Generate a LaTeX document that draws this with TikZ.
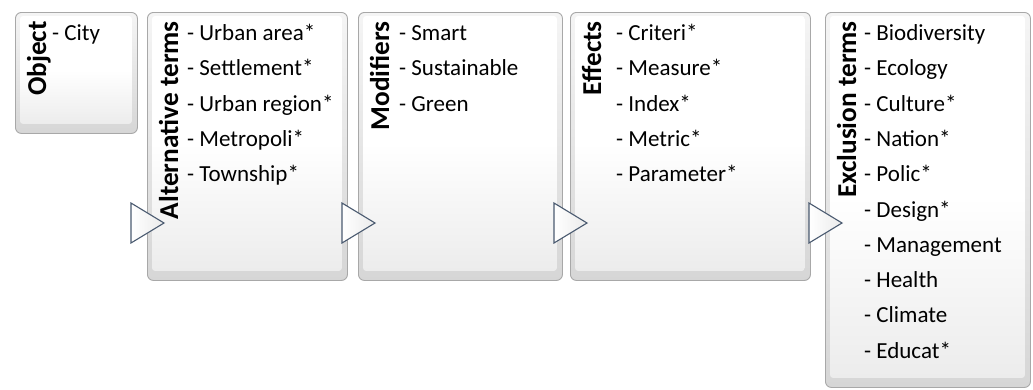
\documentclass[tikz,border=0pt]{standalone}
\usepackage{fontspec}
\setmainfont{Carlito}
\usetikzlibrary{calc}

\definecolor{rim}{HTML}{A8A8A8}
\definecolor{bevel}{HTML}{D6D6D6}
\definecolor{facelow}{HTML}{ECECEC}
\definecolor{arrowline}{HTML}{4A5A70}

\tikzset{
  keybox/.style={draw=rim, line width=0.9pt, rounded corners=6pt,
    top color=white!96!black, bottom color=bevel,
    anchor=north west, inner sep=0pt},
  keyface/.style={rounded corners=3pt, top color=white, bottom color=facelow,
    middle color=white},
  title/.style={rotate=90, anchor=base east, inner sep=0pt,
    font=\fontsize{27.3}{30}\selectfont\bfseries},
  items/.style={anchor=base west, inner sep=0pt,
    font=\fontsize{23}{35.3}\selectfont},
  steptri/.style={draw=arrowline, line width=1.1pt, line join=miter,
    left color=white, right color=black!8},
}

% stacked list with a fixed line pitch
\newcommand{\termlist}[1]{\parbox[t]{170pt}{\raggedright #1}}

% keycap-style box: name, left, top, right, bottom
\newcommand{\keycap}[5]{%
  \node[keybox, minimum width=#4-#2, minimum height=#5-#3] (#1) at (#2,#3) {};
  \shade[keyface] ($(#1.north west)+(5,4)$) rectangle ($(#1.south east)+(-6,-10)$);
}

\begin{document}
\begin{tikzpicture}[x=1pt, y=-1pt]
\useasboundingbox (0,0) rectangle (1033,389);

\keycap{obj}{15}{12}{137}{133}
\keycap{alt}{147}{12}{347}{280}
\keycap{mod}{358}{12}{562}{280}
\keycap{eff}{570}{12}{810}{280}
\keycap{exc}{825}{12}{1030}{387}

% step arrows overlapping the left edges
\foreach \b in {alt, mod, eff, exc}
  \draw[steptri] ($(\b.north west)+(-16,191)$) -- ++(33,20) -- ++(-33,20) -- cycle;

% rotated headings
\node[title] (tobj) at ($(obj.north west)+(31,9)$) {Object};
\node[title] (talt) at ($(alt.north west)+(31,9)$) {Alternative terms};
\node[title] (tmod) at ($(mod.north west)+(31,9)$) {Modifiers};
\node[title] (teff) at ($(eff.north west)+(31,9)$) {Effects};
\node[title] (texc) at ($(exc.north west)+(31,9)$) {Exclusion terms};

% term lists
\node[items] (lobj) at ($(obj.north west)+(37,28.5)$) {\termlist{- City}};
\node[items] (lalt) at ($(alt.north west)+(40,28.5)$) {\termlist{- Urban area*\\
- Settlement*\\ - Urban region*\\ - Metropoli*\\ - Township*}};
\node[items] (lmod) at ($(mod.north west)+(41,28.5)$) {\termlist{- Smart\\
- Sustainable\\ - Green}};
\node[items] (leff) at ($(eff.north west)+(46,28.5)$) {\termlist{- Criteri*\\
- Measure*\\ - Index*\\ - Metric*\\ - Parameter*}};
\node[items] (lexc) at ($(exc.north west)+(39,28.5)$) {\termlist{- Biodiversity\\
- Ecology\\ - Culture*\\ - Nation*\\ - Polic*\\ - Design*\\ - Management\\
- Health\\ - Climate\\ - Educat*}};
\end{tikzpicture}
\end{document}
